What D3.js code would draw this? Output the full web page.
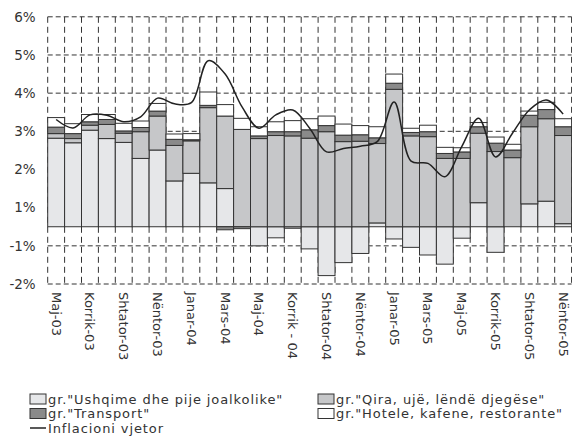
<!DOCTYPE html>
<html>
<head>
<meta charset="utf-8">
<script src="https://cdnjs.cloudflare.com/ajax/libs/d3/7.8.5/d3.min.js"></script>
<style>
  body { margin: 0; background: #fff; overflow: hidden; }
  text { font-family: "DejaVu Sans", sans-serif; fill: #333; }
</style>
</head>
<body>
<script>
// months May 2003 - Nov 2005
var months = ["Maj-03", "Qershor-03", "Korrik-03", "Gusht-03", "Shtator-03", "Tetor-03", "Nëntor-03", "Dhjetor-03",
  "Janar-04", "Shkurt-04", "Mars-04", "Prill-04", "Maj-04", "Qershor-04", "Korrik - 04", "Gusht-04", "Shtator-04",
  "Tetor-04", "Nëntor-04", "Dhjetor-04", "Janar-05", "Shkurt-05", "Mars-05", "Prill-05", "Maj-05", "Qershor-05",
  "Korrik-05", "Gusht-05", "Shtator-05", "Tetor-05", "Nëntor-05"];

// only every second month is labelled
var xLabels = months.filter(function(d, i) { return i % 2 == 0; });

// y axis: gridlines sit on half percents, labels are rounded
var yTicks = [5.5, 4.5, 3.5, 2.5, 1.5, 0.5, -0.5, -1.5];
var yLabels = ["6%", "5%", "4%", "3%", "2%", "1%", "-1%", "-2%"];

var ushqime = [2.32, 2.20, 2.53, 2.31, 2.21, 1.79, 2.01, 1.20, 1.40, 1.15, 1.00, 0, -0.50, -0.29, -0.04, -0.58,
  -1.28, -0.94, -0.70, 0.10, -0.32, -0.54, -0.74, -0.98, -0.30, 0.63, -0.67, 0, 0.60, 0.67, 0.08];
var qira = [0.12, 0.11, 0.13, 0.37, 0.24, 0.70, 0.89, 0.93, 0.85, 1.97, 1.90, 2.55, 2.31, 2.39, 2.38, 2.32,
  2.49, 2.23, 2.24, 2.08, 3.60, 2.38, 2.36, 1.79, 1.79, 1.82, 1.97, 1.81, 2.02, 2.16, 2.31];
var transport = [0.17, 0.13, 0.09, 0.13, 0.06, 0.11, 0.13, 0.16, 0.03, 0.06, -0.08, -0.05, 0.07, 0.10, 0.11, 0.22,
  0.16, 0.17, 0.17, 0.15, 0.16, 0.09, 0.13, 0.13, 0.17, 0.17, 0.22, 0.20, 0.30, 0.24, 0.23];
var hotele = [0.25, 0.26, 0.19, 0.13, 0.20, 0.17, 0.20, 0.14, 0.16, 0.35, 0.30, 0.29, 0.24, 0.26, 0.29, 0.29,
  0.25, 0.29, 0.24, 0.29, 0.24, 0.11, 0.17, 0.16, 0.11, 0.11, 0.16, 0.15, 0.11, 0.19, 0.21];
var inflacioni = [2.81, 2.59, 2.93, 2.92, 2.75, 2.88, 3.37, 3.22, 3.25, 4.35, 4.00, 3.14, 2.58, 2.93, 3.06, 2.58,
  1.96, 2.05, 2.11, 2.23, 3.27, 1.72, 1.66, 1.31, 2.10, 2.84, 1.83, 2.45, 3.06, 3.32, 2.95];

var seriesNames = ['gr."Ushqime dhe pije joalkolike"', 'gr."Qira, ujë, lëndë djegëse"',
  'gr."Transport"', 'gr."Hotele, kafene, restorante"'];
var lineName = "Inflacioni vjetor";
var colors = ["#e6e7e9", "#c6c7c9", "#8a8a8a", "#ffffff"];

var w = 572, h = 442;

var svg = d3.select("body").append("svg")
  .attr("width", w)
  .attr("height", h);

var x = d3.scaleBand()
  .domain(months)
  .range([47.7, 571.6])
  .padding(0);

var y = d3.scaleLinear()
  .domain([-1.5, 5.5])
  .range([284, 16.8]);

// table for the stack
var table = months.map(function(m, i) {
  return { month: m, s0: ushqime[i], s1: qira[i], s2: transport[i], s3: hotele[i] };
});
var stack = d3.stack()
  .keys(["s0", "s1", "s2", "s3"])
  .offset(d3.stackOffsetDiverging);
var layers = stack(table);

// dashed grid
var grid = svg.append("g");
grid.selectAll("line.h")
  .data(yTicks)
  .enter()
  .append("line")
  .attr("x1", x.range()[0])
  .attr("x2", x.range()[1])
  .attr("y1", function(d) { return y(d); })
  .attr("y2", function(d) { return y(d); })
  .attr("stroke", "#333")
  .attr("stroke-dasharray", "5,3");

var edges = months.map(function(m) { return x(m); }).concat([x.range()[1]]);
grid.selectAll("line.v")
  .data(edges)
  .enter()
  .append("line")
  .attr("x1", function(d) { return d; })
  .attr("x2", function(d) { return d; })
  .attr("y1", y(5.5))
  .attr("y2", y(-1.5))
  .attr("stroke", "#333")
  .attr("stroke-dasharray", "6,4");

// stacked bars
svg.selectAll("g.layer")
  .data(layers)
  .enter()
  .append("g")
  .attr("fill", function(d, i) { return colors[i]; })
  .selectAll("rect")
  .data(function(d) { return d.filter(function(p) { return p[1] != p[0]; }); })
  .enter()
  .append("rect")
  .attr("x", function(d) { return x(d.data.month); })
  .attr("width", x.bandwidth())
  .attr("y", function(d) { return y(Math.max(d[0], d[1])); })
  .attr("height", function(d) { return Math.abs(y(d[0]) - y(d[1])); })
  .attr("stroke", "#333")
  .attr("stroke-width", 1);

// inflation line
var line = d3.line()
  .x(function(d, i) { return x(months[i]) + x.bandwidth() / 2; })
  .y(function(d) { return y(d); })
  .curve(d3.curveCatmullRom.alpha(0.5));

svg.append("path")
  .datum(inflacioni)
  .attr("d", line)
  .attr("fill", "none")
  .attr("stroke", "#222")
  .attr("stroke-width", 1.5);

// y axis labels
svg.append("g")
  .attr("transform", "translate(" + x.range()[0] + ",0)")
  .call(d3.axisLeft(y).tickValues(yTicks).tickSize(0).tickPadding(12)
    .tickFormat(function(d, i) { return yLabels[i]; }))
  .call(function(g) { g.select(".domain").remove(); })
  .selectAll("text")
  .style("font-size", "13.5px")
  .style("fill", "#333")
  .style("font-family", '"DejaVu Sans", sans-serif');

// x axis labels, rotated
svg.append("g")
  .attr("transform", "translate(0," + y(-1.5) + ")")
  .call(d3.axisBottom(x).tickValues(xLabels).tickSize(0))
  .call(function(g) { g.select(".domain").remove(); })
  .selectAll("text")
  .attr("transform", "rotate(90)")
  .attr("x", 8)
  .attr("y", 0)
  .attr("dy", "0.35em")
  .style("text-anchor", "start")
  .style("font-size", "13px")
  .style("fill", "#333")
  .style("font-family", '"DejaVu Sans", sans-serif');

// legend
var legendPos = [[30, 399], [318, 399], [30, 413.5], [318, 413.5]];
var legend = svg.append("g");
seriesNames.forEach(function(name, i) {
  var p = legendPos[i];
  legend.append("rect")
    .attr("x", p[0])
    .attr("y", p[1] - 5)
    .attr("width", 16)
    .attr("height", 10)
    .attr("fill", colors[i])
    .attr("stroke", "#333");
  legend.append("text")
    .attr("x", p[0] + 18)
    .attr("y", p[1])
    .attr("dy", "0.35em")
    .style("font-size", "13px")
    .style("letter-spacing", "0.9px")
    .text(name);
});
legend.append("line")
  .attr("x1", 30).attr("x2", 46)
  .attr("y1", 428).attr("y2", 428)
  .attr("stroke", "#222")
  .attr("stroke-width", 1.5);
legend.append("text")
  .attr("x", 48)
  .attr("y", 428)
  .attr("dy", "0.35em")
  .style("font-size", "13px")
  .style("letter-spacing", "0.9px")
  .text(lineName);
</script>
</body>
</html>
